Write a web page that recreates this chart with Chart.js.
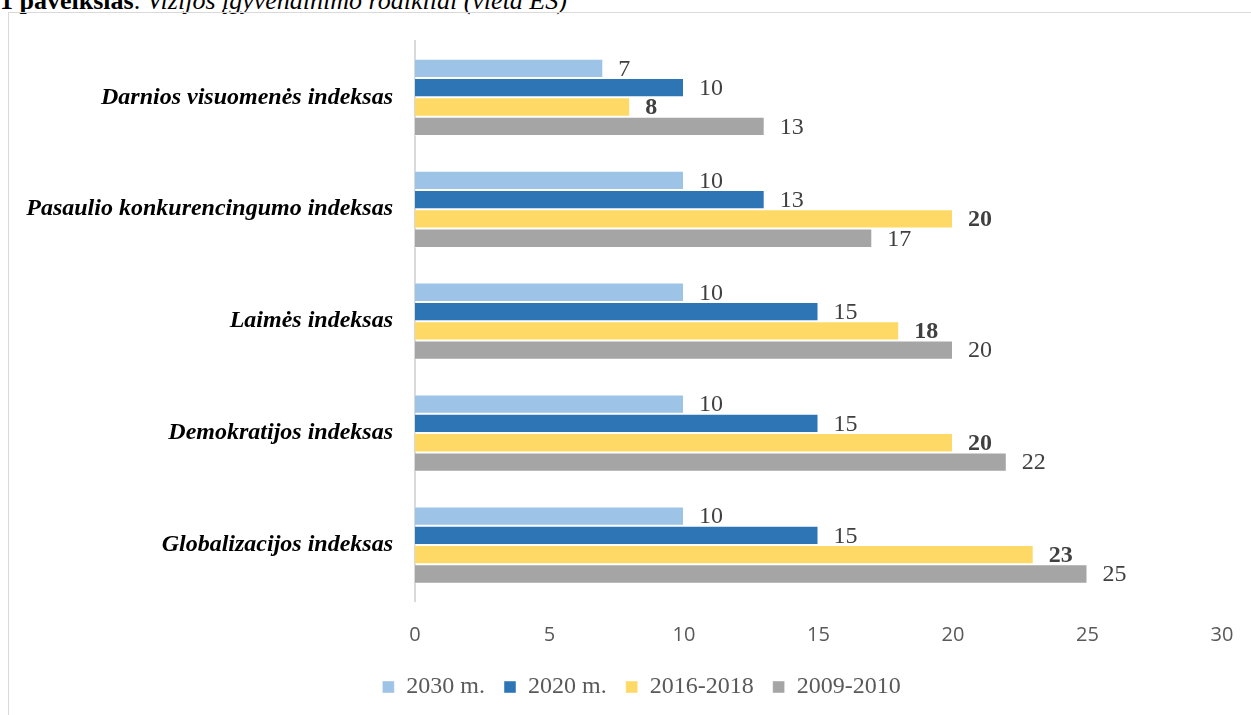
<!DOCTYPE html>
<html>
<head>
<meta charset="utf-8">
<script src="https://cdn.jsdelivr.net/npm/chart.js@4.4.1/dist/chart.umd.min.js"></script>
<style>
  html, body { margin:0; padding:0; width:1251px; height:715px; overflow:hidden; background:#fff; }
  #title { position:absolute; left:0; top:-12px; line-height:1; font-family:"Liberation Serif","Times New Roman",serif; font-size:26px; color:#000; white-space:nowrap; }
  #frame { position:absolute; left:8px; top:12px; width:1300px; height:800px; border:1px solid #d9d9d9; box-sizing:border-box; }
  #wrap { position:absolute; left:9px; top:13px; width:1242px; height:707px; }
</style>
</head>
<body>
<div id="title"><b>1 paveikslas</b>. <i>Vizijos įgyvendinimo rodikliai (vieta ES)</i></div>
<div id="frame"></div>
<div id="wrap"><canvas id="c"></canvas></div>
<script>
const categories = [
  "Darnios visuomenės indeksas",
  "Pasaulio konkurencingumo indeksas",
  "Laimės indeksas",
  "Demokratijos indeksas",
  "Globalizacijos indeksas"
];
const seriesNames = ["2030 m.", "2020 m.", "2016-2018", "2009-2010"];
const values2030 = [7, 10, 10, 10, 10];
const values2020 = [10, 13, 15, 15, 15];
const values2016 = [8, 20, 18, 20, 23];
const values2009 = [13, 17, 20, 22, 25];
const xTicks = [0, 5, 10, 15, 20, 25, 30];

const colors = ["#9DC3E6", "#2E75B6", "#FFD966", "#A5A5A5"];
const boldLabels = [false, false, true, false];
const allValues = [values2030, values2020, values2016, values2009];

const labelPlugin = {
  id: 'barLabels',
  afterLayout(chart) {
    if (chart.legend) { chart.legend.left += 26; chart.legend.right += 26; }
  },
  afterDatasetsDraw(chart) {
    const ctx = chart.ctx;
    ctx.save();
    chart.data.datasets.forEach((ds, i) => {
      const meta = chart.getDatasetMeta(i);
      ctx.font = (boldLabels[i] ? 'bold ' : '') + '24px "Liberation Serif", "Times New Roman", serif';
      ctx.fillStyle = '#404040';
      ctx.textAlign = 'left';
      ctx.textBaseline = 'middle';
      meta.data.forEach((el, j) => {
        ctx.fillText(String(ds.data[j]), el.x + 15, el.y + 1);
      });
    });
    ctx.restore();
  }
};

new Chart(document.getElementById('c'), {
  type: 'bar',
  data: {
    labels: categories,
    datasets: seriesNames.map((n, i) => ({
      label: n,
      data: allValues[i],
      backgroundColor: colors[i],
      borderColor: 'rgba(255,255,255,0.45)',
      borderWidth: 1,
      categoryPercentage: 0.69,
      barPercentage: 1.0
    }))
  },
  options: {
    indexAxis: 'y',
    responsive: true,
    maintainAspectRatio: false,
    animation: false,
    layout: { padding: { left: 0, right: 29, top: 22, bottom: 11 } },
    scales: {
      x: {
        min: 0, max: 30,
        afterBuildTicks(scale) { scale.ticks = xTicks.map(v => ({ value: v })); },
        afterFit(scale) { scale.height = 55; },
        grid: { display: false },
        border: { display: false },
        ticks: {
          font: { family: '"Open Sans", sans-serif', size: 20 },
          color: '#595959',
          padding: 14
        }
      },
      y: {
        grid: { display: false },
        border: { display: true, color: '#d9d9d9', width: 2 },
        afterFit(scale) { scale.width = 406; },
        ticks: {
          font: { family: '"Liberation Serif", "Times New Roman", serif', size: 24, weight: 'bold', style: 'italic' },
          color: '#000',
          padding: 14
        }
      }
    },
    plugins: {
      legend: {
        position: 'bottom',
        labels: {
          boxWidth: 12,
          boxHeight: 12,
          padding: 19,
          color: '#595959',
          font: { family: '"Liberation Serif", "Times New Roman", serif', size: 24 }
        }
      },
      tooltip: { enabled: false }
    }
  },
  plugins: [labelPlugin]
});
</script>
</body>
</html>
